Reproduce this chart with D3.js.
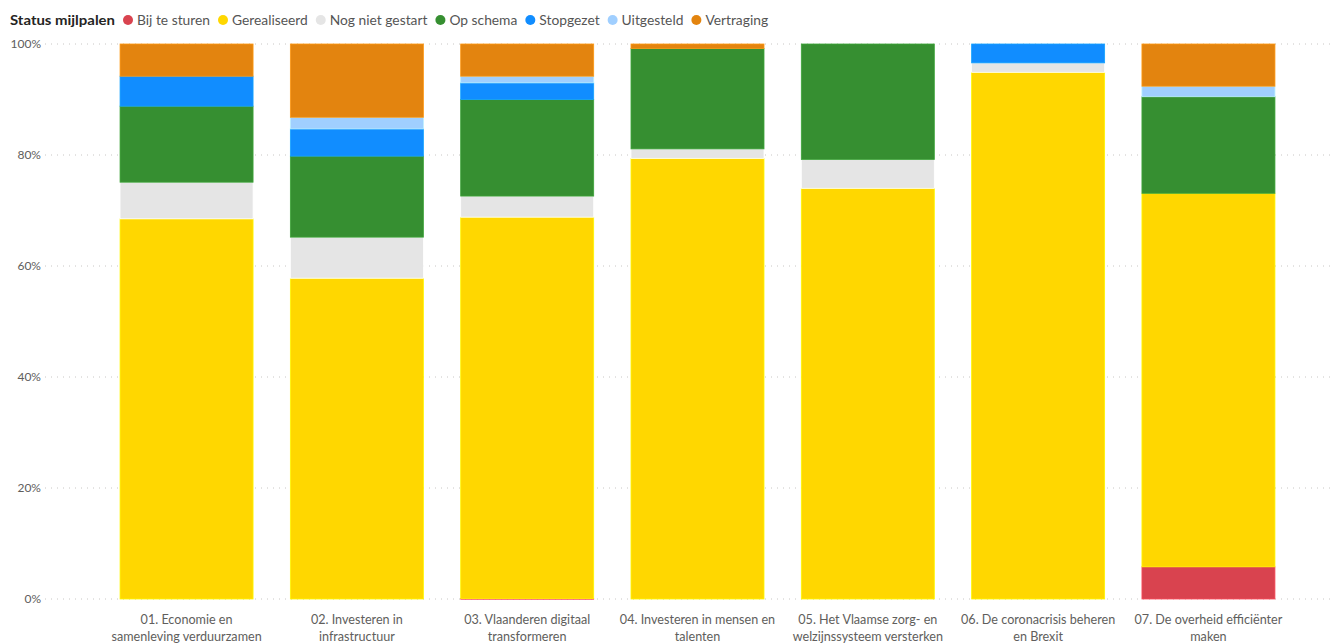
<!DOCTYPE html>
<html>
<head>
<meta charset="utf-8">
<script src="https://cdn.jsdelivr.net/npm/d3@7"></script>
<style>
  body { margin: 0; background: #fff; }
  text { font-family: "Segoe UI", Lato, "Open Sans", sans-serif; }
</style>
</head>
<body>
<script>
// Categories (line breaks as in the picture)
const categories = [
  "01. Economie en\nsamenleving verduurzamen",
  "02. Investeren in\ninfrastructuur",
  "03. Vlaanderen digitaal\ntransformeren",
  "04. Investeren in mensen en\ntalenten",
  "05. Het Vlaamse zorg- en\nwelzijnssysteem versterken",
  "06. De coronacrisis beheren\nen Brexit",
  "07. De overheid efficiënter\nmaken"
];

// Series, bottom to top (legend order)
const statuses = ["Bij te sturen", "Gerealiseerd", "Nog niet gestart", "Op schema", "Stopgezet", "Uitgesteld", "Vertraging"];
const colors = ["#D9434F", "#FFD700", "#E5E5E5", "#368F31", "#118DFF", "#A0CFFF", "#E3840F"];

// share per category (%)
const bijTeSturen   = [0,    0,    0.1,  0,    0,    0,    5.8];
const gerealiseerd  = [68.5, 57.8, 68.7, 79.4, 74.0, 94.9, 67.3];
const nogNietGestart= [6.6,  7.4,  3.8,  1.7,  5.2,  1.7,  0];
const opSchema      = [13.7, 14.6, 17.4, 18.1, 20.8, 0,    17.4];
const stopgezet     = [5.4,  4.9,  3.0,  0,    0,    3.4,  0];
const uitgesteld    = [0,    2.1,  1.2,  0,    0,    0,    1.9];
const vertraging    = [5.8,  13.2, 5.8,  0.8,  0,    0,    7.6];

const yTicks = [0, 0.2, 0.4, 0.6, 0.8, 1];

const series = [bijTeSturen, gerealiseerd, nogNietGestart, opSchema, stopgezet, uitgesteld, vertraging];
const rows = categories.map((c, i) => {
  const r = {category: c};
  statuses.forEach((s, j) => r[s] = series[j][i] / 100);
  return r;
});

const width = 1333, height = 643;

const svg = d3.select("body").append("svg")
    .attr("width", width)
    .attr("height", height);

const x = d3.scaleBand()
    .domain(categories)
    .range([101.4, 1293.6])
    .paddingInner(0.219)
    .paddingOuter(0.1095);

const y = d3.scaleLinear()
    .domain([0, 1])
    .range([599, 44]);

const color = d3.scaleOrdinal(statuses, colors);

// gridlines
svg.append("g")
  .selectAll("line")
  .data(yTicks)
  .join("line")
    .attr("x1", 45)
    .attr("x2", width)
    .attr("y1", d => y(d))
    .attr("y2", d => y(d))
    .attr("stroke", "#C8C6C4")
    .attr("stroke-width", 1)
    .attr("stroke-dasharray", "1,5");

// y axis labels
svg.append("g")
  .selectAll("text")
  .data(yTicks)
  .join("text")
    .attr("x", 41)
    .attr("y", d => y(d))
    .attr("dy", "0.35em")
    .attr("text-anchor", "end")
    .attr("font-size", 12)
    .attr("fill", "#605E5C")
    .text(d3.format(".0%"));

// stacked bars
const stacked = d3.stack().keys(statuses)(rows);

svg.append("g")
  .selectAll("g")
  .data(stacked)
  .join("g")
    .attr("fill", d => color(d.key))
    .attr("stroke", d => d3.color(color(d.key)).brighter(0.4))
    .attr("stroke-width", 0.8)
  .selectAll("rect")
  .data(d => d.filter(s => s[1] - s[0] > 0))
  .join("rect")
    .attr("x", d => x(d.data.category))
    .attr("width", x.bandwidth())
    .attr("y", d => y(d[1]))
    .attr("height", d => Math.max(0.8, y(d[0]) - y(d[1])));

// x labels
const xl = svg.append("g")
  .selectAll("text")
  .data(categories)
  .join("text")
    .attr("x", d => x(d) + x.bandwidth() / 2)
    .attr("y", 624)
    .attr("text-anchor", "middle")
    .attr("font-size", 12.6)
    .attr("fill", "#605E5C");

xl.selectAll("tspan")
  .data(d => d.split("\n"))
  .join("tspan")
    .attr("x", function () { return this.parentNode.getAttribute("x"); })
    .attr("dy", (d, i) => i === 0 ? 0 : 17)
    .text(d => d);

// legend
const legend = svg.append("g").attr("transform", "translate(10,20)");
const title = legend.append("text")
    .attr("dy", "0.35em")
    .attr("font-size", 13.5)
    .attr("font-weight", "bold")
    .attr("fill", "#252423")
    .text("Status mijlpalen");
title.attr("textLength", 105).attr("lengthAdjust", "spacingAndGlyphs");

let lx = 118;
statuses.forEach(s => {
  legend.append("circle")
      .attr("cx", lx)
      .attr("cy", 0)
      .attr("r", 5)
      .attr("fill", color(s));
  const t = legend.append("text")
      .attr("x", lx + 9)
      .attr("dy", "0.35em")
      .attr("font-size", 13.8)
      .attr("fill", "#555")
      .text(s);
  lx += 9 + t.node().getComputedTextLength() + 13;
});
</script>
</body>
</html>
